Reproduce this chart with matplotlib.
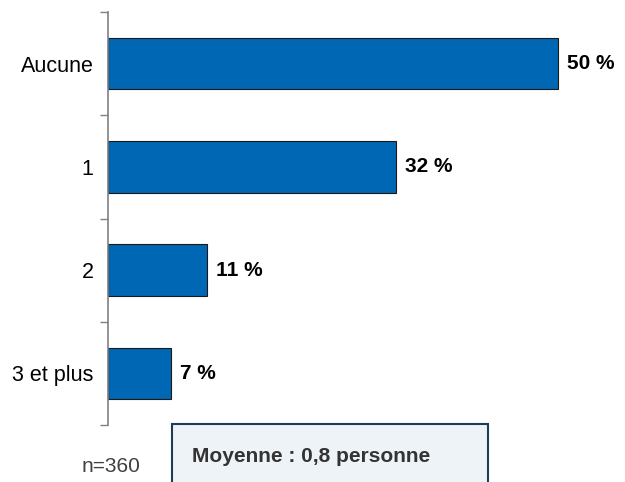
import matplotlib
matplotlib.use("Agg")
import matplotlib.pyplot as plt
from matplotlib.patches import Rectangle

categories = ["Aucune", "1", "2", "3 et plus"]
values = [50, 32, 11, 7]
labels = ["50 %", "32 %", "11 %", "7 %"]
sample_note = "n=360"
mean_note = "Moyenne : 0,8 personne"

plt.rcParams["font.family"] = ["Liberation Sans", "DejaVu Sans"]

W, H = 625, 482
fig = plt.figure(figsize=(W / 100, H / 100), dpi=100)
ax = fig.add_axes([108 / W, 1 - 425 / H, 517 / W, 413 / H])

pos = list(range(len(categories)))
ax.barh(pos, values, height=0.5, color="#0067b4", edgecolor="#1a1a1a", linewidth=0.8)

for p, v, lab in zip(pos, values, labels):
    ax.annotate(lab, (v, p), xytext=(6.5, 0), textcoords="offset points",
                va="center", ha="left", fontsize=15, fontweight="bold", color="black")

ax.set_ylim(len(categories) - 0.5, -0.5)
ax.set_xlim(0, 57.4)

# ticks sit between categories, labels at the bar centres
ax.set_yticks([i - 0.5 for i in range(len(categories) + 1)])
ax.set_yticklabels([])
ax.set_yticks(pos, minor=True)
ax.set_yticklabels(categories, minor=True, fontsize=15.5)
ax.tick_params(axis="y", which="major", length=6, width=1, color="#808080", direction="out")
ax.tick_params(axis="y", which="minor", length=0, pad=10.5)
ax.set_xticks([])

for s in ["top", "right", "bottom"]:
    ax.spines[s].set_visible(False)
ax.spines["left"].set_color("#808080")
ax.spines["left"].set_linewidth(1.2)

fig.text(82 / W, 1 - 466 / H, sample_note, fontsize=15, color="#404040", va="center", ha="left")

box = Rectangle((172 / W, -0.1), (488 - 172) / W, 0.1 + (482 - 424) / H,
                transform=fig.transFigure, facecolor="#eef3f7", edgecolor="#1f3b5a",
                linewidth=1.5, clip_on=False)
fig.patches.append(box)
fig.text(192 / W, 1 - 456 / H, mean_note, fontsize=15, fontweight="bold",
         color="#333333", va="center", ha="left")

fig.savefig("out.png", dpi=100)
